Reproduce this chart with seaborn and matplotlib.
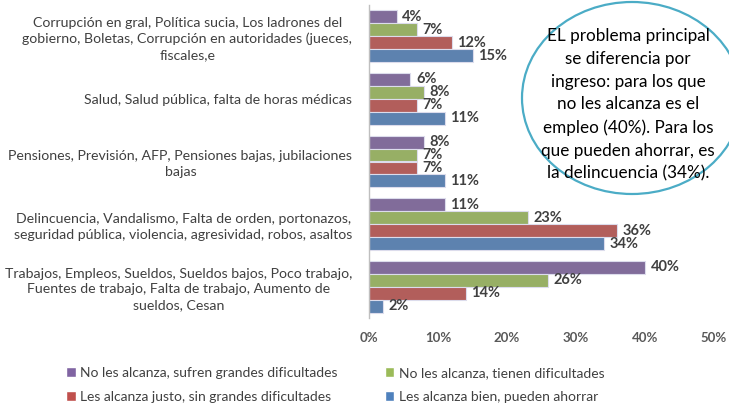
import pandas as pd
import matplotlib.pyplot as plt
from matplotlib.patches import Ellipse, Patch
import seaborn as sns

# categories (top to bottom) and series
categorias = [
    "Corrupción en gral, Política sucia, Los ladrones del\ngobierno, Boletas, Corrupción en autoridades (jueces,\nfiscales,e",
    "Salud, Salud pública, falta de horas médicas",
    "Pensiones, Previsión, AFP, Pensiones bajas, jubilaciones\nbajas",
    "Delincuencia, Vandalismo, Falta de orden, portonazos,\nseguridad pública, violencia, agresividad, robos, asaltos",
    "Trabajos, Empleos, Sueldos, Sueldos bajos, Poco trabajo,\nFuentes de trabajo, Falta de trabajo, Aumento de\nsueldos, Cesan",
]
series = [
    "No les alcanza, sufren grandes dificultades",
    "No les alcanza, tienen dificultades",
    "Les alcanza justo, sin grandes dificultades",
    "Les alcanza bien, pueden ahorrar",
]
sufren = [4, 6, 8, 11, 40]
tienen = [7, 8, 7, 23, 26]
justo = [12, 7, 7, 36, 14]
ahorrar = [15, 11, 11, 34, 2]
colores = ["#8064A2", "#9BBB59", "#C0504D", "#4F81BD"]
xticks = [0, 10, 20, 30, 40, 50]

texto_nota = ("EL problema principal\nse diferencia por\ningreso: para los que\n"
              "no les alcanza es el\nempleo (40%). Para los\nque pueden ahorrar, es\n"
              "la delincuencia (34%).")

rows = []
for s, vals in zip(series, [sufren, tienen, justo, ahorrar]):
    for c, v in zip(categorias, vals):
        rows.append({"categoria": c, "serie": s, "valor": v})
df = pd.DataFrame(rows)

sns.set_theme(style="white")
plt.rcParams["font.family"] = ["Lato", "DejaVu Sans"]
gris = "#404040"

fig = plt.figure(figsize=(7.29, 4.07), dpi=100)
ax = fig.add_axes([369 / 729, 1 - 318 / 407, 345 / 729, 313 / 407])

sns.barplot(data=df, y="categoria", x="valor", hue="serie", order=categorias,
            hue_order=series, palette=colores, orient="h", width=0.83,
            edgecolor="#dcdcec", linewidth=0.8, ax=ax, legend=False)

for cont in ax.containers:
    ax.bar_label(cont, fmt="%d%%", padding=4, fontsize=10.5, fontweight="bold", color=gris)

ax.set_xlim(0, 50)
ax.set_xticks(xticks)
ax.set_xticklabels([f"{t}%" for t in xticks], fontsize=9.5, fontweight="bold", color="#595959")
ax.tick_params(axis="x", length=0, pad=10)
ax.tick_params(axis="y", length=0, pad=12)
for t in ax.get_yticklabels():
    t.set_multialignment("center")
    t.set_fontsize(10.2)
    t.set_color(gris)
    t.set_linespacing(1.35)
ax.set_xlabel("")
ax.set_ylabel("")
for side in ["top", "right", "bottom"]:
    ax.spines[side].set_visible(False)
ax.spines["left"].set_color("#bfbfbf")
ax.spines["left"].set_linewidth(1)

# note ellipse
ell = Ellipse((632 / 729, 1 - 98 / 407), 220 / 729, 192 / 407, transform=fig.transFigure,
              facecolor="white", edgecolor="#4BACC6", linewidth=1.6, zorder=5)
fig.patches.append(ell)
fig.text(628 / 729, 1 - 105 / 407, texto_nota, ha="center", va="center", fontsize=12.3,
         color="black", linespacing=1.52, zorder=6)

handles = [Patch(facecolor=c) for c in colores]
order = [0, 2, 1, 3]
fig.legend([handles[i] for i in order], [series[i] for i in order], ncol=2,
           loc="upper left", bbox_to_anchor=(66 / 729, 1 - 367 / 407), frameon=False,
           fontsize=10, labelcolor=gris, handlelength=0.7, handleheight=0.7,
           handletextpad=0.3, labelspacing=0.85, columnspacing=3.4, borderpad=0,
           borderaxespad=0)

fig.savefig("out.png", dpi=100)
